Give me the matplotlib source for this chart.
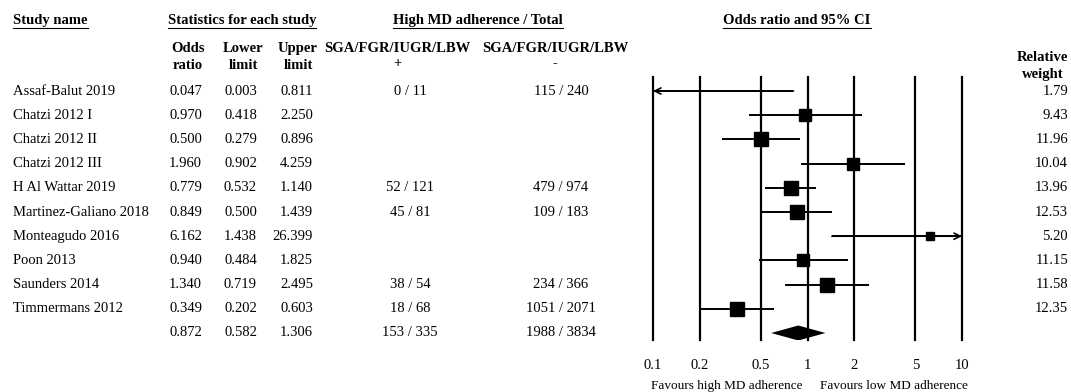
import numpy as np
import matplotlib
matplotlib.use('Agg')
import matplotlib.pyplot as plt

plt.rcParams['font.family'] = ['Liberation Serif', 'DejaVu Serif']

studies = ['Assaf-Balut 2019', 'Chatzi 2012 I', 'Chatzi 2012 II', 'Chatzi 2012 III',
           'H Al Wattar 2019', 'Martinez-Galiano 2018', 'Monteagudo 2016', 'Poon 2013',
           'Saunders 2014', 'Timmermans 2012']
odds = [0.047, 0.970, 0.500, 1.960, 0.779, 0.849, 6.162, 0.940, 1.340, 0.349]
lower = [0.003, 0.418, 0.279, 0.902, 0.532, 0.500, 1.438, 0.484, 0.719, 0.202]
upper = [0.811, 2.250, 0.896, 4.259, 1.140, 1.439, 26.399, 1.825, 2.495, 0.603]
events_pos = ['0 / 11', '', '', '', '52 / 121', '45 / 81', '', '', '38 / 54', '18 / 68']
events_neg = ['115 / 240', '', '', '', '479 / 974', '109 / 183', '', '', '234 / 366', '1051 / 2071']
weights = [1.79, 9.43, 11.96, 10.04, 13.96, 12.53, 5.20, 11.15, 11.58, 12.35]

pooled = (0.872, 0.582, 1.306)
pooled_pos = '153 / 335'
pooled_neg = '1988 / 3834'

ticks = [0.1, 0.2, 0.5, 1, 2, 5, 10]
tick_labels = ['0.1', '0.2', '0.5', '1', '2', '5', '10']

W, H = 1071, 392
FS = 10.5
row0, step = 91, 24.2
top, bottom = 77, 340
x_lo, x_hi = 653, 962

fig = plt.figure(figsize=(W / 100, H / 100), dpi=100)

# table area in pixel units
tab = fig.add_axes([0, 0, 1, 1])
tab.set_xlim(0, W)
tab.set_ylim(H, 0)
tab.axis('off')

# forest plot
ax = fig.add_axes([x_lo / W, 1 - bottom / H, (x_hi - x_lo) / W, (bottom - top) / H])
ax.set_facecolor('none')
ax.set_xscale('log')
ax.set_xlim(0.1, 10)
ax.set_ylim((bottom - row0) / step, (top - row0) / step)
for s in ax.spines.values():
    s.set_visible(False)
ax.set_yticks([])
ax.set_xticks(ticks)
ax.set_xticklabels(tick_labels)
ax.minorticks_off()
ax.tick_params(axis='x', length=0, pad=14, labelsize=FS)

for t in ticks:
    ax.axvline(t, color='black', lw=1.6, clip_on=False)

for i in range(len(studies)):
    lo = max(lower[i], 0.1)
    hi = min(upper[i], 10)
    ax.plot([lo, hi], [i, i], color='black', lw=1.4, solid_capstyle='butt')
    if lower[i] < 0.1:
        ax.annotate('', xy=(0.1, i), xytext=(hi, i),
                    arrowprops=dict(arrowstyle='->', lw=1.2, color='black',
                                    shrinkA=0, shrinkB=0, mutation_scale=11))
    if upper[i] > 10:
        ax.annotate('', xy=(10, i), xytext=(lo, i),
                    arrowprops=dict(arrowstyle='->', lw=1.2, color='black',
                                    shrinkA=0, shrinkB=0, mutation_scale=11))
    if 0.1 <= odds[i] <= 10:
        side = 3.85 * np.sqrt(weights[i])
        ax.plot(odds[i], i, 's', color='black', ms=side * 0.72, mec='black')

n = len(studies)
est, plo, phi = pooled
h = 7.5 / step
ax.fill([plo, est, phi, est], [n, n - h, n, n + h], color='black', lw=0)

ax.annotate('Favours high MD adherence', xy=(1, 0), xycoords=('data', 'axes fraction'),
            xytext=(-5, -46), textcoords='offset pixels', ha='right', va='center', fontsize=9.5)
ax.annotate('Favours low MD adherence', xy=(1, 0), xycoords=('data', 'axes fraction'),
            xytext=(12, -46), textcoords='offset pixels', ha='left', va='center', fontsize=9.5)

# headers
heads = [(13, 'left', 'Study name'), (242, 'center', 'Statistics for each study'),
         (478, 'center', 'High MD adherence / Total'), (797, 'center', 'Odds ratio and 95% CI')]
head_texts = []
for x, ha, s in heads:
    head_texts.append(tab.text(x, 20, s, ha=ha, va='center', fontsize=FS, fontweight='bold'))

for x, s in [(188, 'Odds\nratio'), (243, 'Lower\nlimit'), (298, 'Upper\nlimit')]:
    tab.text(x, 57, s, ha='center', va='center', fontsize=FS, fontweight='bold',
             multialignment='center', linespacing=1.4)
for x, s in [(397, 'SGA/FGR/IUGR/LBW\n+'), (555, 'SGA/FGR/IUGR/LBW\n-')]:
    tab.text(x, 56, s, ha='center', va='center', fontsize=FS, fontweight='bold',
             multialignment='center', linespacing=1.25)
tab.text(1068, 66, 'Relative\nweight', ha='right', va='center', fontsize=FS, fontweight='bold',
         multialignment='center', linespacing=1.4)

# rows
for i in range(n + 1):
    y = row0 + step * i
    if i < n:
        vals = (odds[i], lower[i], upper[i])
        name, pos, neg = studies[i], events_pos[i], events_neg[i]
        tab.text(1068, y, f'{weights[i]:.2f}', ha='right', va='center', fontsize=FS)
    else:
        vals = pooled
        name, pos, neg = '', pooled_pos, pooled_neg
    tab.text(13, y, name, ha='left', va='center', fontsize=FS)
    for x, v in zip([202, 257, 313], vals):
        tab.text(x, y, f'{v:.3f}', ha='right', va='center', fontsize=FS)
    tab.text(410, y, pos, ha='center', va='center', fontsize=FS)
    tab.text(561, y, neg, ha='center', va='center', fontsize=FS)

# underline the top headers
fig.canvas.draw()
inv = tab.transData.inverted()
for t in head_texts:
    bb = t.get_window_extent()
    (x0, _), (x1, _) = inv.transform([[bb.x0, bb.y0], [bb.x1, bb.y1]])
    tab.plot([x0, x1], [27.5, 27.5], color='black', lw=0.8)

fig.savefig('out.png', dpi=100, facecolor='white')
